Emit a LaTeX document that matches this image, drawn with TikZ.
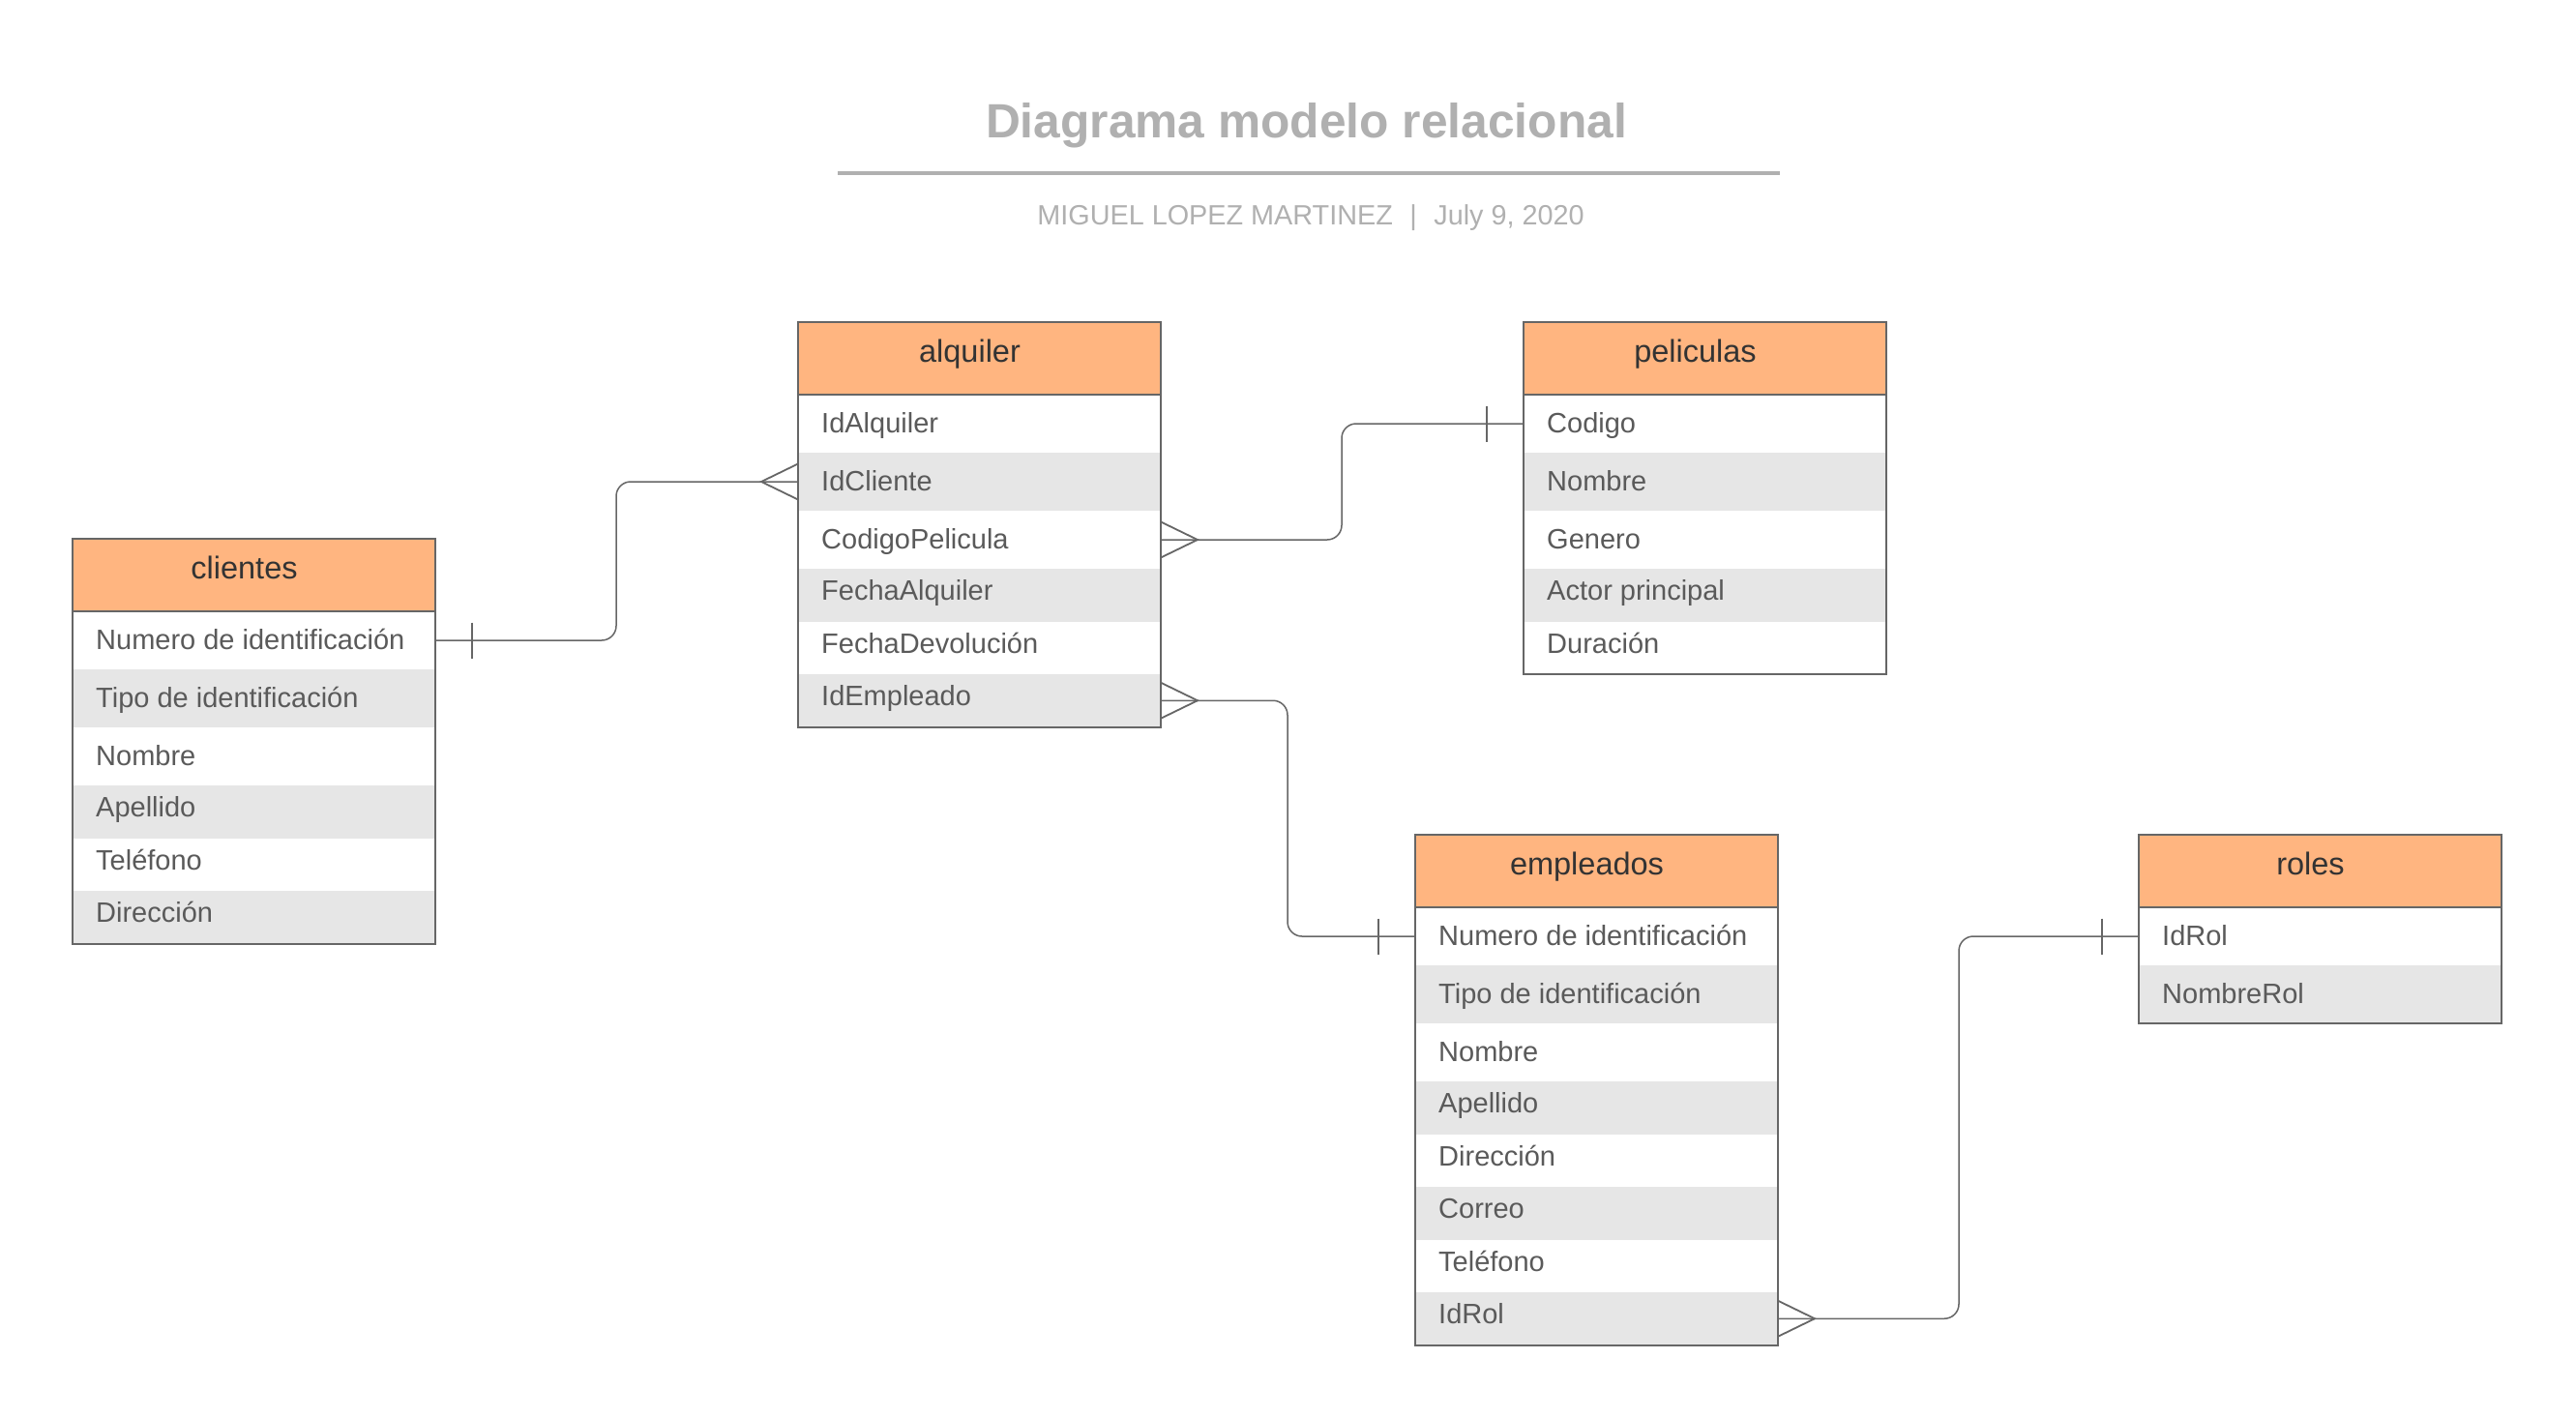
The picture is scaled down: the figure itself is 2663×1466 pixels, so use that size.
\documentclass[tikz,border=0pt]{standalone}
\usepackage{fontspec}
\setmainfont{Liberation Sans}
\usetikzlibrary{calc}
\definecolor{hdr}{HTML}{FFB580}
\definecolor{alt}{HTML}{E6E6E6}
\definecolor{edgec}{HTML}{666666}
\definecolor{rowtxt}{HTML}{5A5A5A}
\definecolor{hdrtxt}{HTML}{333333}
\definecolor{ttl}{HTML}{B0B0B0}
\tikzset{
  tblhead/.style={fill=hdr, minimum width=375pt, minimum height=75pt, anchor=north west, inner sep=0pt, outer sep=0pt},
  rowbox/.style={fill=#1, minimum width=375pt, anchor=north west, inner sep=0pt, outer sep=0pt},
  tblborder/.style={draw=edgec, line width=2pt},
  hdrtext/.style={font=\fontsize{32.5}{38}\selectfont, text=hdrtxt, inner sep=0pt, anchor=base},
  rowtext/.style={font=\fontsize{29}{34}\selectfont, text=rowtxt, inner sep=0pt, anchor=base west},
  conn/.style={draw=edgec, line width=1.5pt, rounded corners=15pt},
  foot/.style={draw=edgec, line width=1.8pt},
}
\newcommand\erdtable[6]{%
  \node[tblhead] (#1-h) at (#2,#3) {};
  \node[hdrtext] (#1-t) at (#2+177.5,#3+41) {#4};
  \foreach \t [count=\i] in {#5} {
    \pgfmathsetmacro\rh{ifthenelse(\i<=3,60,54.5)}
    \pgfmathsetmacro\rtop{#3+75+ifthenelse(\i<=3,60*(\i-1),180+54.5*(\i-4))}
    \pgfmathsetmacro\rb{ifthenelse(\i<=3,39,32.5)}
    \ifodd\i \def\rfill{white}\else\def\rfill{alt}\fi
    \node[rowbox=\rfill, minimum height=\rh pt] (#1-\i) at (#2,\rtop) {};
    \node[rowtext] (#1-\i-t) at (#2+24,\rtop+\rb) {\t};
  }
  \draw[tblborder] (#1-h.north west) rectangle (#1-#6.south east);
  \draw[tblborder] (#1-h.south west) -- (#1-h.south east);
}
\begin{document}
\begin{tikzpicture}[x=1pt,y=-1pt]
\fill[white] (0,0) rectangle (2663,1466);
\useasboundingbox (0,0) rectangle (2663,1466);

% title block
\node[font=\bfseries\fontsize{49.7}{60}\selectfont, text=ttl, inner sep=0pt, anchor=base] (title) at (1350.5,143) {Diagrama modelo relacional};
\draw[ttl, line width=3.5pt] (866,179) -- (1840,179);
\node[font=\fontsize{28.8}{34}\selectfont, text=ttl, inner sep=0pt, anchor=base] (subtitle) at (1355,233) {MIGUEL LOPEZ MARTINEZ\hspace{17.5pt}|\hspace{17.5pt}July 9, 2020};

% tables
\erdtable{clientes}{75}{557}{clientes}{Numero de identificación,Tipo de identificación,Nombre,Apellido,Teléfono,Dirección}{6}
\erdtable{alquiler}{825}{333}{alquiler}{IdAlquiler,IdCliente,CodigoPelicula,FechaAlquiler,FechaDevolución,IdEmpleado}{6}
\erdtable{peliculas}{1575}{333}{peliculas}{Codigo,Nombre,Genero,Actor principal,Duración}{5}
\erdtable{empleados}{1463}{863}{empleados}{Numero de identificación,Tipo de identificación,Nombre,Apellido,Dirección,Correo,Teléfono,IdRol}{8}
\erdtable{roles}{2211}{863}{roles}{IdRol,NombreRol}{2}

% bend coordinates
\coordinate (m1) at (637,580);
\coordinate (m2) at (1387,500);
\coordinate (m3) at (1331,850);
\coordinate (m4) at (2025,1150);

% connectors
\draw[conn] (clientes-1.east) -| (m1) |- (alquiler-2.west);
\draw[conn] (alquiler-3.east) -| (m2) |- (peliculas-1.west);
\draw[conn] (alquiler-6.east) -| (m3) |- (empleados-1.west);
\draw[conn] (empleados-8.east) -| (m4) |- (roles-1.west);

% one-bars
\draw[foot] ($(clientes-1.east)+(38,-18.5)$) -- ++(0,37);
\draw[foot] ($(peliculas-1.west)+(-38,-18.5)$) -- ++(0,37);
\draw[foot] ($(empleados-1.west)+(-38,-18.5)$) -- ++(0,37);
\draw[foot] ($(roles-1.west)+(-38,-18.5)$) -- ++(0,37);

% crow's feet
\draw[foot] ($(alquiler-2.west)+(0,-18.5)$) -- ($(alquiler-2.west)+(-38,0)$) -- ($(alquiler-2.west)+(0,18.5)$);
\draw[foot] ($(alquiler-3.east)+(0,-18.5)$) -- ($(alquiler-3.east)+(38,0)$) -- ($(alquiler-3.east)+(0,18.5)$);
\draw[foot] ($(alquiler-6.east)+(0,-18.5)$) -- ($(alquiler-6.east)+(38,0)$) -- ($(alquiler-6.east)+(0,18.5)$);
\draw[foot] ($(empleados-8.east)+(0,-18.5)$) -- ($(empleados-8.east)+(38,0)$) -- ($(empleados-8.east)+(0,18.5)$);
\end{tikzpicture}
\end{document}
